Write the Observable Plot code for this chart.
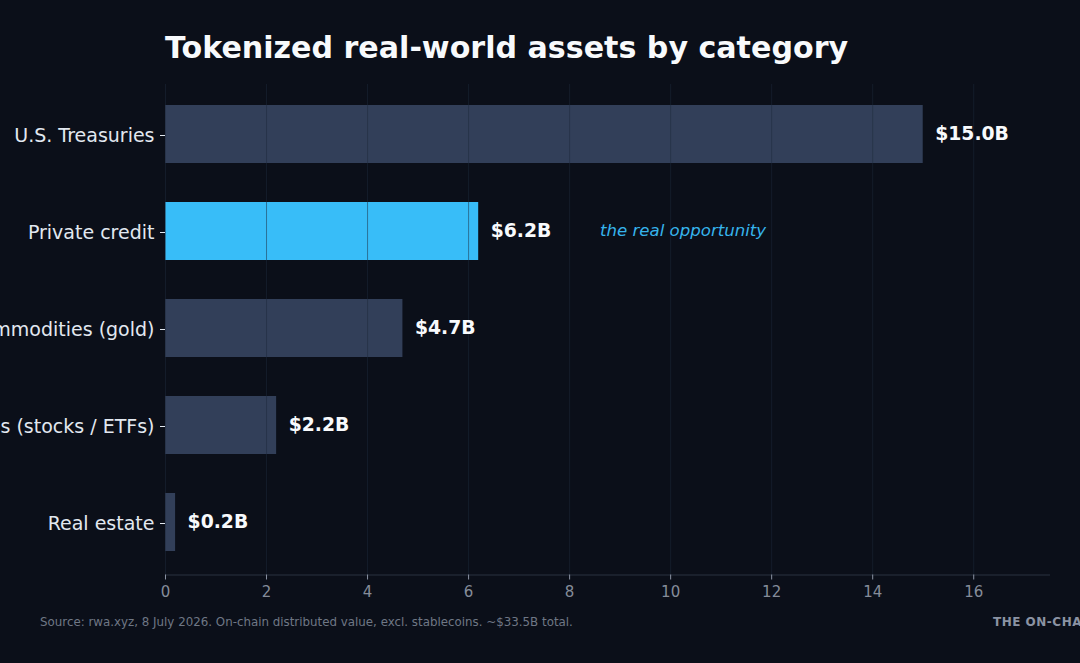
<!DOCTYPE html>
<html><head><meta charset="utf-8">
<script src="https://cdn.jsdelivr.net/npm/d3@7"></script>
<script src="https://cdn.jsdelivr.net/npm/@observablehq/plot@0.6"></script>
<style>
html,body{margin:0;padding:0;background:#0b0f19;width:1080px;height:663px;overflow:hidden;font-family:"DejaVu Sans",sans-serif}
#title{position:absolute;left:165px;top:29px;font-size:30.1px;line-height:38px;font-weight:700;color:#f8fafc;white-space:nowrap}
#chart{position:absolute;left:0;top:70px}
#source{position:absolute;left:40px;top:615px;font-size:11.85px;line-height:15px;color:#6f7785;white-space:nowrap}
#brand{position:absolute;left:993px;top:615px;font-size:12px;line-height:15px;font-weight:700;color:#8b93a3;letter-spacing:.5px;white-space:nowrap}
</style></head><body>
<div id="title">Tokenized real-world assets by category</div>
<div id="chart"></div>
<div id="source">Source: rwa.xyz, 8 July 2026. On-chain distributed value, excl. stablecoins. ~$33.5B total.</div>
<div id="brand">THE ON-CHAIN</div>
<script>
const categories = ["U.S. Treasuries","Private credit","Commodities (gold)","Equities (stocks / ETFs)","Real estate"];
const values = [15.0,6.2,4.7,2.2,0.2];
const labels = ["$15.0B","$6.2B","$4.7B","$2.2B","$0.2B"];
const highlighted = "Private credit";
const xTicks = [0,2,4,6,8,10,12,14,16];
const note = "the real opportunity";
const noteValue = 8.6;
const rows = categories.map((category,i)=>({category,value:values[i],label:labels[i]}));
const plot = Plot.plot({
  width:1080,height:540,
  marginLeft:165,marginRight:31,marginTop:14,marginBottom:35.5,
  style:{background:"transparent",fontFamily:"'DejaVu Sans',sans-serif",overflow:"visible"},
  x:{domain:[0,17.5],label:null},
  y:{domain:categories,label:null,paddingInner:0.4,paddingOuter:0.2205,align:0.4825},
  marks:[
    Plot.barX(rows,{x:"value",y:"category",fill:d=>d.category===highlighted?"#38bdf8":"#323f59"}),
    Plot.ruleX(xTicks,{stroke:"#1e293b",strokeOpacity:0.5,strokeWidth:1}),
    Plot.frame({anchor:"bottom",stroke:"#2b3240",strokeWidth:1}),
    Plot.axisX({ticks:xTicks,tickSize:5,tickPadding:6,stroke:"#8b93a3",fill:"#858c99",fontSize:15,label:null,tickFormat:d=>String(d)}),
    Plot.axisY({tickSize:5,tickPadding:6,stroke:"#e2e8f0",fill:"#e2e8f0",fontSize:19,dy:1,label:null}),
    Plot.text(rows,{x:"value",y:"category",text:"label",dx:12,dy:-1,textAnchor:"start",fill:"#f8fafc",fontSize:18.8,fontWeight:700}),
    Plot.text([note],{x:noteValue,y:[highlighted],text:d=>d,dy:-1,textAnchor:"start",fill:"#36b4ec",fontSize:16.6,fontStyle:"italic"})
  ]
});
document.getElementById("chart").appendChild(plot);
</script></body></html>
